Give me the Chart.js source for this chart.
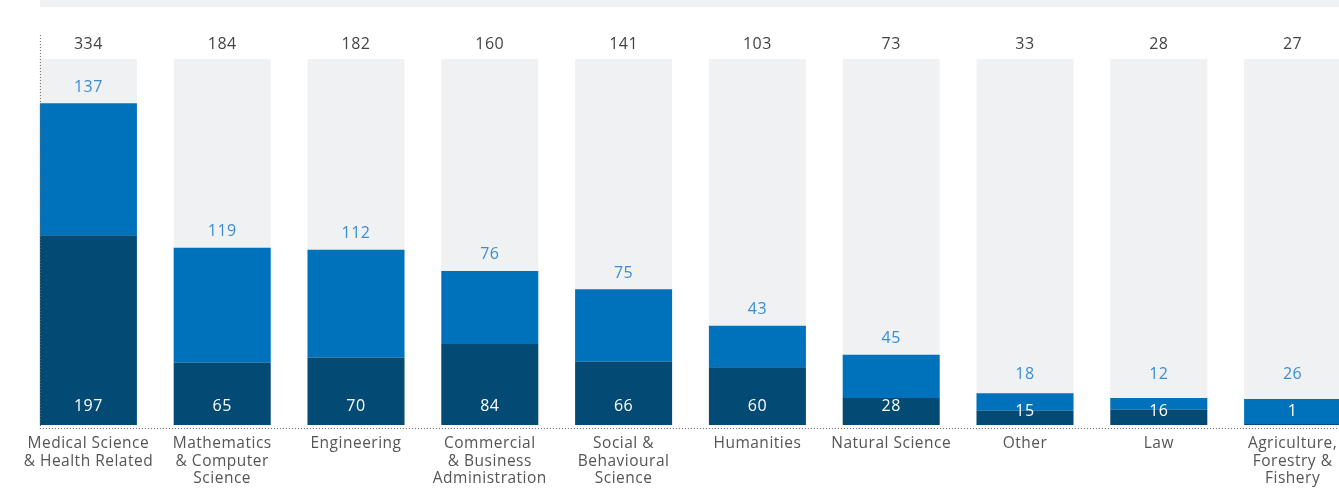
<!DOCTYPE html>
<html>
<head>
<meta charset="utf-8">
<script src="https://cdn.jsdelivr.net/npm/chart.js@4/dist/chart.umd.min.js"></script>
<style>
  html, body { margin: 0; padding: 0; background: #fff; overflow: hidden; width: 1339px; height: 488px; }
  #topband { position: absolute; left: 40px; top: 0; width: 1320px; height: 7px; background: #f0f1f3; }
  #wrap { position: absolute; left: 0; top: 0; width: 1360px; height: 488px; }
</style>
</head>
<body>
<div id="topband"></div>
<div id="wrap"><canvas id="c" width="1360" height="488"></canvas></div>
<script>
const categories = [
  ["Medical Science", "& Health Related"],
  ["Mathematics", "& Computer", "Science"],
  ["Engineering"],
  ["Commercial", "& Business", "Administration"],
  ["Social &", "Behavioural", "Science"],
  ["Humanities"],
  ["Natural Science"],
  ["Other"],
  ["Law"],
  ["Agriculture,", "Forestry &", "Fishery"]
];
const darkValues = [197, 65, 70, 84, 66, 60, 28, 15, 16, 1];
const blueValues = [137, 119, 112, 76, 75, 43, 45, 18, 12, 26];
const totals = [334, 184, 182, 160, 141, 103, 73, 33, 28, 27];
const backgroundValues = [380, 380, 380, 380, 380, 380, 380, 380, 380, 380];

const FONT = "'Open Sans', sans-serif";

const spacingPlugin = {
  id: 'spacing',
  beforeDraw(chart) { chart.ctx.letterSpacing = '0.5px'; }
};

const labelPlugin = {
  id: 'labels',
  afterDatasetsDraw(chart) {
    const ctx = chart.ctx;
    const area = chart.chartArea;
    const darkMeta = chart.getDatasetMeta(0);
    const blueMeta = chart.getDatasetMeta(1);
    const bgMeta = chart.getDatasetMeta(2);
    ctx.save();
    ctx.letterSpacing = '0.5px';
    ctx.font = "16px " + FONT;
    ctx.textAlign = 'center';
    ctx.textBaseline = 'middle';
    for (let i = 0; i < totals.length; i++) {
      const bg = bgMeta.data[i];
      const bl = blueMeta.data[i];
      const dk = darkMeta.data[i];
      ctx.fillStyle = '#444444';
      ctx.fillText(String(totals[i]), bg.x, bg.y - 15);
      ctx.fillStyle = '#3a8dd3';
      const by = Math.min(bl.y - 16, area.bottom - 51);
      ctx.fillText(String(blueValues[i]), bl.x, by);
      ctx.fillStyle = '#ffffff';
      const dh = area.bottom - dk.y;
      ctx.fillText(String(darkValues[i]), dk.x, dh >= 25 ? area.bottom - 19 : area.bottom - 14);
    }
    const first = bgMeta.data[0];
    const left = first.x - first.width / 2;
    ctx.strokeStyle = '#666666';
    ctx.lineWidth = 1;
    ctx.setLineDash([1, 2]);
    ctx.beginPath();
    ctx.moveTo(left + 0.5, 35);
    ctx.lineTo(left + 0.5, area.bottom + 3);
    ctx.stroke();
    ctx.beginPath();
    ctx.moveTo(left, area.bottom + 3.5);
    ctx.lineTo(chart.width, area.bottom + 3.5);
    ctx.stroke();
    ctx.restore();
  }
};

new Chart(document.getElementById('c'), {
  type: 'bar',
  data: {
    labels: categories,
    datasets: [
      { label: 'dark', data: darkValues, backgroundColor: '#034a74', stack: 'a', grouped: false, order: 1 },
      { label: 'blue', data: blueValues, backgroundColor: '#0071bb', stack: 'a', grouped: false, order: 1 },
      { label: 'bg', data: backgroundValues, backgroundColor: '#f0f1f3', stack: 'bg', grouped: false, order: 10 }
    ]
  },
  options: {
    responsive: false,
    animation: false,
    devicePixelRatio: 1,
    layout: { padding: { top: 59, left: 21.5, right: 0.5, bottom: 0 } },
    plugins: { legend: { display: false }, tooltip: { enabled: false } },
    datasets: { bar: { categoryPercentage: 1, barPercentage: 0.725, borderWidth: 0 } },
    scales: {
      x: {
        stacked: true,
        grid: { display: false, drawTicks: false },
        border: { display: false },
        ticks: { color: '#555', font: { family: FONT, size: 15.5, lineHeight: 1.13 }, padding: 10, maxRotation: 0, autoSkip: false },
        afterFit(s) { s.height = 63; }
      },
      y: {
        stacked: true,
        display: false,
        min: 0,
        max: 380
      }
    }
  },
  plugins: [spacingPlugin, labelPlugin]
});
</script>
</body>
</html>
